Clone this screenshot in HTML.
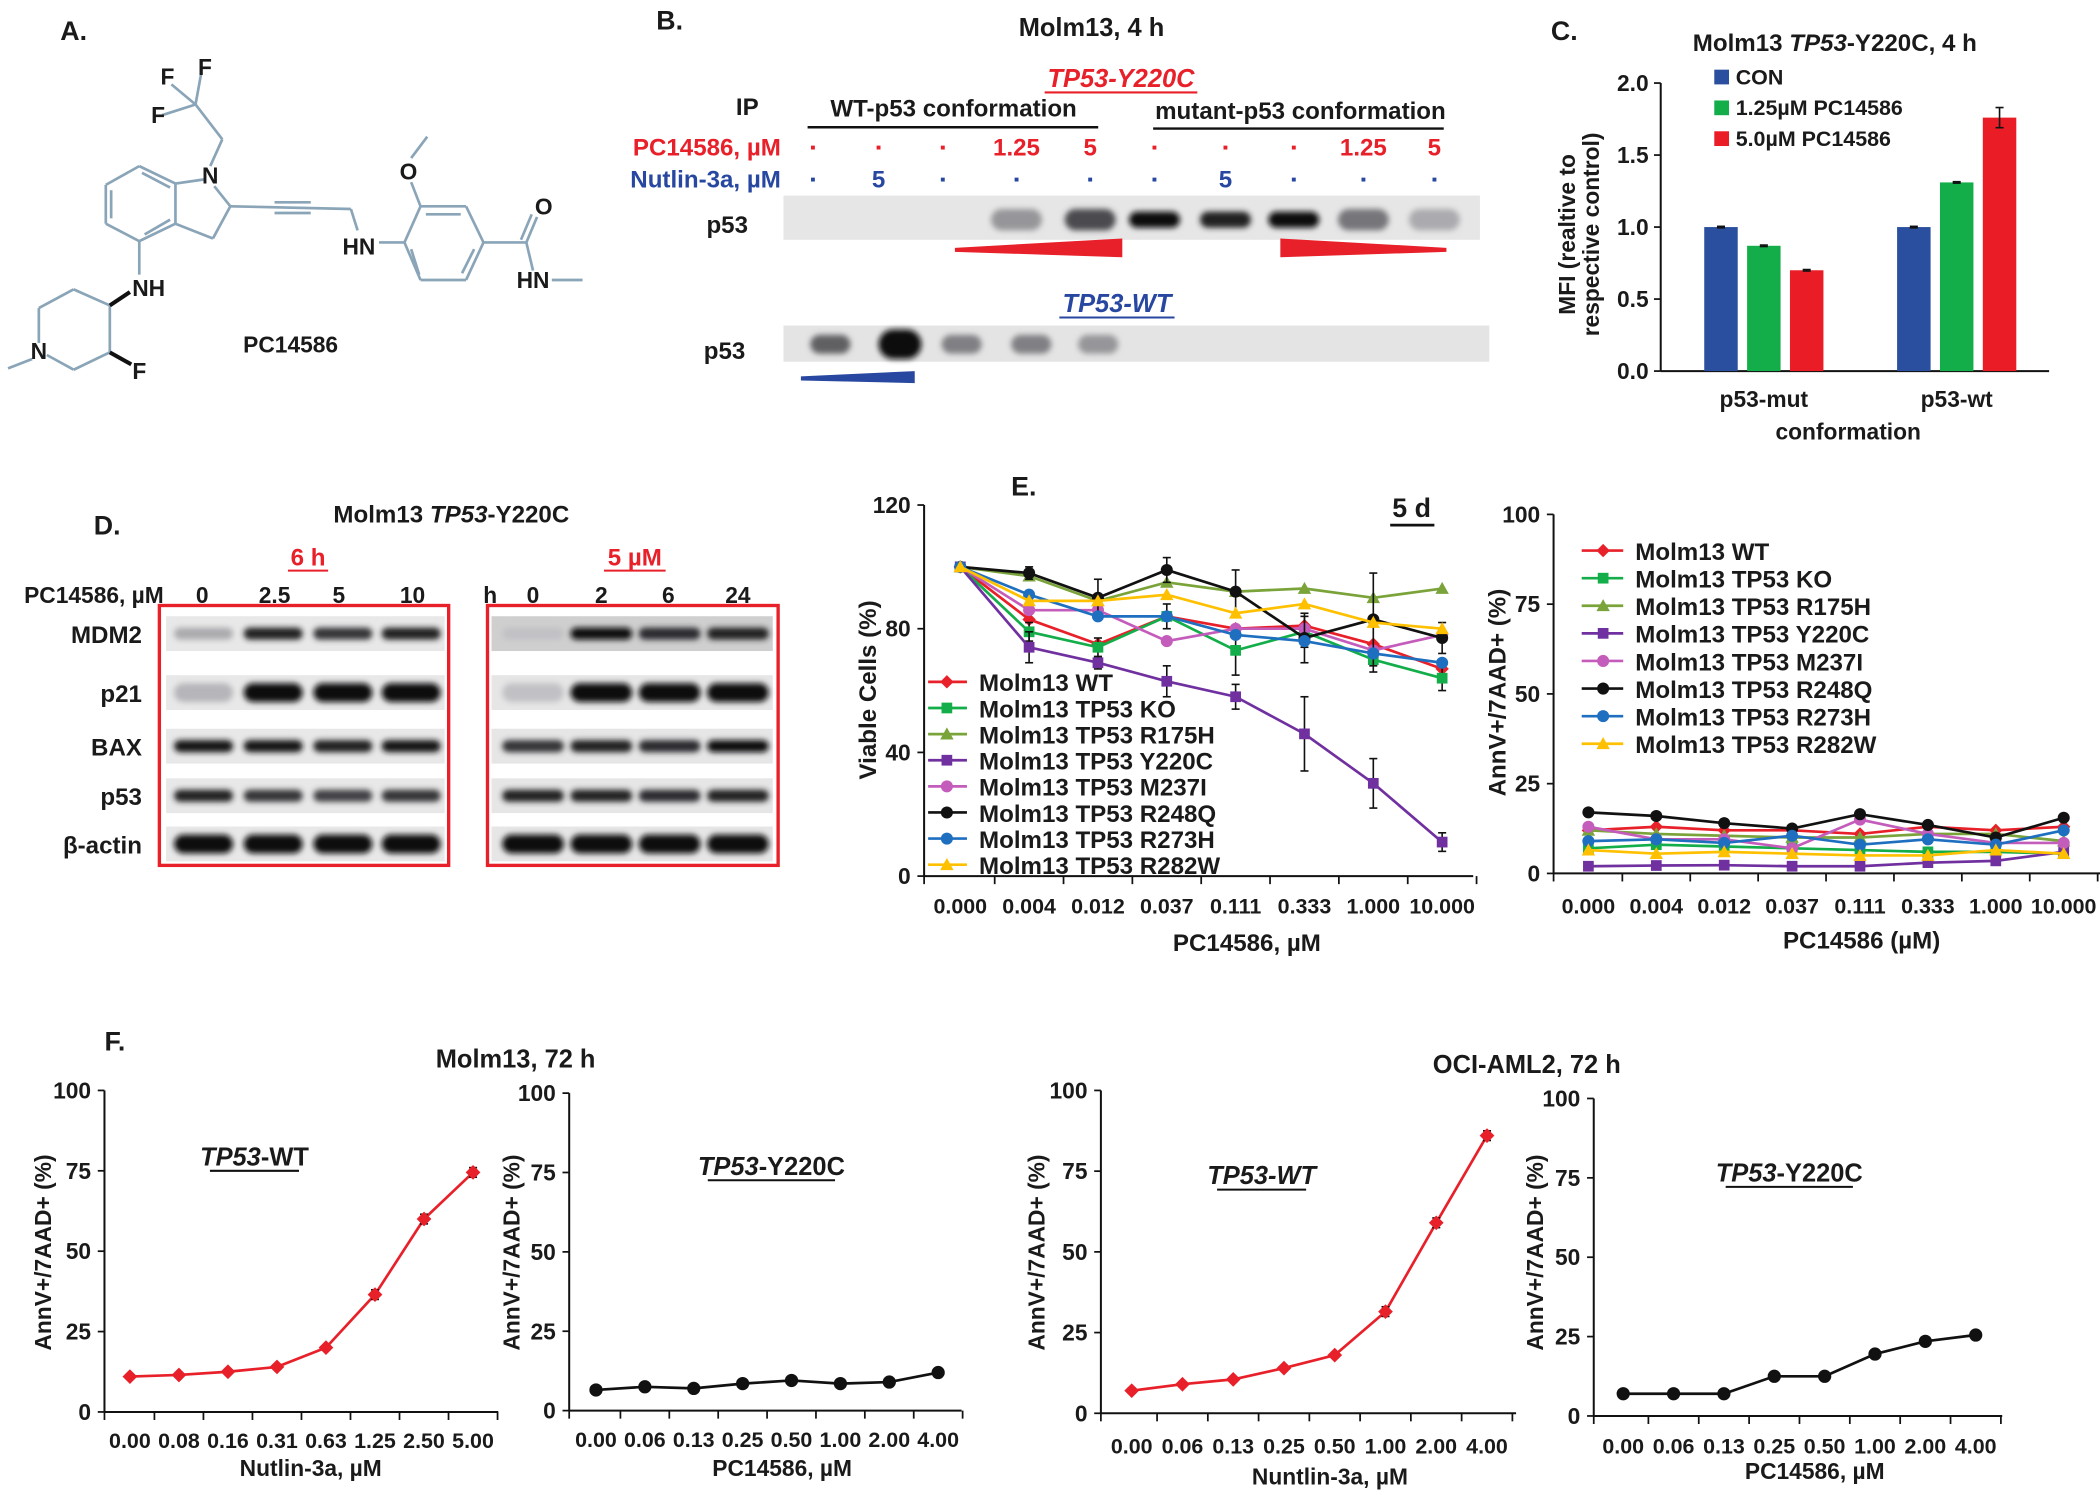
<!DOCTYPE html>
<html><head><meta charset="utf-8"><style>
html,body{margin:0;padding:0;background:#fff;}
svg{display:block;}
text{font-family:"Liberation Sans Narrow","Liberation Sans",sans-serif;font-weight:bold;fill:#1a1a1a;}
.w{font-family:"Liberation Sans",sans-serif;}
</style></head><body>
<svg id="fig" width="2100" height="1495" viewBox="0 0 1568 1116" preserveAspectRatio="none" xmlns="http://www.w3.org/2000/svg">
<defs>
<filter id="blur" x="-30%" y="-80%" width="160%" height="260%"><feGaussianBlur stdDeviation="2.2"/></filter>
</defs>
</svg>
<script>
// ---------- DATA ----------
const C_groups = ["p53-mut","p53-wt"];
const C_con = [1.0, 1.0];
const C_low = [0.87, 1.31];
const C_high = [0.70, 1.76];
const C_highErr = [0.005, 0.07];
const C_ticks = [0.0, 0.5, 1.0, 1.5, 2.0];

const E_cats = ["0.000","0.004","0.012","0.037","0.111","0.333","1.000","10.000"];
const E_ticksL = [0, 40, 80, 120];
const E_ticksR = [0, 25, 50, 75, 100];
const E_wt    = [100, 83, 75, 84, 80, 81, 75, 67];
const E_ko    = [100, 79, 74, 84, 73, 79, 70, 64];
const E_r175h = [100, 97, 89, 95, 92, 93, 90, 93];
const E_y220c = [100, 74, 69, 63, 58, 46, 30, 11];
const E_m237i = [100, 86, 86, 76, 80, 80, 73, 78];
const E_r248q = [100, 98, 90, 99, 92, 77, 83, 77];
const E_r273h = [100, 91, 84, 84, 78, 76, 72, 69];
const E_r282w = [100, 89, 89, 91, 85, 88, 82, 80];
const E_y220cErr = [0, 5, 2, 5, 4, 12, 8, 3];
const E_r248qErr = [0, 2, 6, 4, 7, 8, 15, 5];
const E_koErr = [0, 3, 3, 4, 8, 5, 4, 4];
const A_wt    = [12, 13, 12, 12, 11, 13, 12, 13];
const A_ko    = [7, 8, 7.5, 7, 6.5, 6, 6, 5.5];
const A_r175h = [12, 11, 10.5, 10, 10, 11, 11, 9];
const A_y220c = [2, 2.2, 2.3, 2, 2, 3, 3.5, 6];
const A_m237i = [13, 9.5, 9.5, 7, 15, 11, 8.5, 8.5];
const A_r248q = [17, 16, 14, 12.5, 16.5, 13.5, 10, 15.5];
const A_r273h = [9, 9.5, 8.5, 10.5, 8, 9.5, 8, 12];
const A_r282w = [6.5, 5.5, 6, 5.5, 5, 5, 6.5, 5.5];
const E_names = ["Molm13 WT","Molm13 TP53 KO","Molm13 TP53 R175H","Molm13 TP53 Y220C","Molm13 TP53 M237I","Molm13 TP53 R248Q","Molm13 TP53 R273H","Molm13 TP53 R282W"];

const F1_cats = ["0.00","0.08","0.16","0.31","0.63","1.25","2.50","5.00"];
const F1_vals = [11, 11.5, 12.5, 14, 20, 36.5, 60, 74.5];
const F2_cats = ["0.00","0.06","0.13","0.25","0.50","1.00","2.00","4.00"];
const F2_vals = [6.5, 7.5, 7, 8.5, 9.5, 8.5, 9, 12];
const F3_cats = ["0.00","0.06","0.13","0.25","0.50","1.00","2.00","4.00"];
const F3_vals = [7, 9, 10.5, 14, 18, 31.5, 59, 86];
const F4_cats = ["0.00","0.06","0.13","0.25","0.50","1.00","2.00","4.00"];
const F4_vals = [7, 7, 7, 12.5, 12.5, 19.5, 23.5, 25.5];
const F_ticks = [0, 25, 50, 75, 100];

const B_blot1 = [0, 0, 0, 0.35, 0.7, 1, 0.9, 1, 0.5, 0.25];
const B_blot2 = [0.6, 1, 0.45, 0.45, 0.35];

// ---------- HELPERS ----------
const svg = document.getElementById('fig');
const NS = 'http://www.w3.org/2000/svg';
function el(tag, attrs, parent){
  const e = document.createElementNS(NS, tag);
  for (const k in attrs) e.setAttribute(k, attrs[k]);
  (parent||svg).appendChild(e);
  return e;
}
function txt(s, x, y, size, opts, name){
  opts = opts||{};
  const t = el('text', {x:x, y:y, 'font-size':size, 'text-anchor':opts.anchor||'start'});
  if (opts.fill) t.setAttribute('style','fill:'+opts.fill);
  if (opts.italic) t.setAttribute('font-style','italic');
  if (opts.cls) t.setAttribute('class',opts.cls);
  if (opts.rot) t.setAttribute('transform','rotate(-90 '+x+' '+y+')');
  t.textContent = s;
  
  
  return t;
}
function mixed(parts, x, y, size, anchor, name){
  const t = el('text',{x:x,y:y,'font-size':size,'text-anchor':anchor||'middle'});
  
  
  parts.forEach(p=>{ const s=el('tspan',p[1]?{'font-style':'italic'}:{},t); s.textContent=p[0]; });
  return t;
}
function line(x1,y1,x2,y2,stroke,w,name){
  const l = el('line',{x1:x1,y1:y1,x2:x2,y2:y2,stroke:stroke,'stroke-width':w});
  
  
  return l;
}
function marker(type,x,y,color,s){
  let m;
  if (type==='diamond') m = el('polygon',{points:[x,y-s,x+s,y,x,y+s,x-s,y].join(' '),fill:color});
  else if (type==='square') m = el('rect',{x:x-s*0.8,y:y-s*0.8,width:s*1.6,height:s*1.6,fill:color});
  else if (type==='triangle') m = el('polygon',{points:[x,y-s,x+s,y+s*0.8,x-s,y+s*0.8].join(' '),fill:color});
  else m = el('circle',{cx:x,cy:y,r:s*0.9,fill:color});
  
  
  return m;
}
function errbar(x,y1,y2,name){
  line(x,y1,x,y2,'#111',1.2,name||'error-bar');
  line(x-3,y1,x+3,y1,'#111',1.2,'error-cap');
  line(x-3,y2,x+3,y2,'#111',1.2,'error-cap');
}
function band(x,y,w,h,intensity,name){
  const v = Math.round(225 - 215*intensity);
  const b = el('rect',{x:x-w/2,y:y-h/2,width:w,height:h,rx:h/2,fill:'rgb('+v+','+v+','+(v+4)+')',filter:'url(#blur)'});
  
  
}

// ---------- PANEL A ----------
txt('A.',45,30,20,{cls:'w'},'panel-a-label');
const bc = '#8aa4b8';
const bonds = [
 [104,124,131,137],[131,137,131,167],[131,167,104,180],[104,180,79,167],[79,167,79,138],[79,138,104,124],
 [83,142,83,163],[106,129,127,140],[108,175,127,164],
 [131,137,152,134],[160,139,172,154],[172,154,159,178],[159,178,131,167],
 [157,124,166,104],[166,104,146,78],[146,78,128,63],[146,78,150,56],[146,78,121,86],
 [172,154,262,156],[205,151,232,151],[205,159,232,159],[262,156,267,172],
 [283,181,302,181],[302,181,314,154],[314,154,348,154],[348,154,361,181],[361,181,348,209],[348,209,314,209],[314,209,302,181],
 [318,160,344,160],[313,205,307,186],[345,204,354,186],
 [314,154,307,136],[307,118,319,102],
 [361,181,393,181],[393,181,401,162],[389,179,397,160],[393,181,398,202],[412,209,435,209],
 [104,180,104,205],[82,228,82,263],[82,263,55,276],[55,276,35,265],[29,256,29,230],[29,230,55,216],[55,216,82,228],[24,268,6,275]
];
bonds.forEach(b=>line(b[0],b[1],b[2],b[3],bc,2,'chemical-bond'));
line(82,228,97,218,'#111',3,'wedge-bond');
line(82,263,98,272,'#111',3,'wedge-bond');
[['F',125,63],['F',153,56],['F',118,92],['N',157,137],['O',305,134],['HN',268,190],['O',406,160],['HN',398,215],['NH',111,221],['N',29,268],['F',104,283]].forEach(a=>txt(a[0],a[1],a[2],17,{anchor:'middle',cls:'w'},'atom-label'));
txt('PC14586',217,263,17,{anchor:'middle',cls:'w'},'compound-name');

// ---------- PANEL B ----------
txt('B.',490,22,20,{cls:'w'},'panel-b-label');
txt('Molm13, 4 h',815,27,19,{anchor:'middle'},'panel-b-title');
txt('TP53-Y220C',837,65,19,{anchor:'middle',fill:'#e8202a',italic:true},'tp53-y220c-label');
line(780,69,894,69,'#e8202a',1.5,'underline');
txt('IP',558,86,18,{anchor:'middle'},'ip-label');
txt('WT-p53 conformation',712,87,18,{anchor:'middle'},'wt-conformation-label');
line(603,95,820,95,'#111',1.8,'group-line');
txt('mutant-p53 conformation',971,89,18,{anchor:'middle'},'mutant-conformation-label');
line(861,96,1078,96,'#111',1.8,'group-line');
txt('PC14586, µM',583,116,18,{anchor:'end',fill:'#e8202a'},'pc14586-row-label');
txt('Nutlin-3a, µM',583,140,18,{anchor:'end',fill:'#2747a0'},'nutlin-row-label');
const B_lanes=[607,656,704,759,814,862,915,966,1018,1071];
const B_pc=['-','-','-','1.25','5','-','-','-','1.25','5'];
const B_nut=['-','5','-','-','-','-','5','-','-','-'];
B_lanes.forEach((x,i)=>{
  txt(B_pc[i]==='-'?'■':B_pc[i],x,B_pc[i]==='-'?112:116,B_pc[i]==='-'?6:18,{anchor:'middle',fill:'#e8202a'},'pc-dose');
  txt(B_nut[i]==='-'?'■':B_nut[i],x,B_nut[i]==='-'?136:140,B_nut[i]==='-'?6:18,{anchor:'middle',fill:'#2747a0'},'nutlin-dose');
});
const bl1 = el('rect',{x:585,y:146,width:520,height:33,fill:'#e6e6e6'});


B_blot1.forEach((v,i)=>{ if(v>0) band(B_lanes[i],164,38,v>0.8?12:16,v,'p53-band'); });
txt('p53',543,174,18,{anchor:'middle'},'p53-row-label');
const w1 = el('polygon',{points:'713,185 838,178 838,192 713,188',fill:'#e8202a'});


const w2 = el('polygon',{points:'956,178 1080,185 1080,188 956,192',fill:'#e8202a'});


txt('TP53-WT',834,233,19,{anchor:'middle',fill:'#2747a0',italic:true},'tp53-wt-label');
line(791,237,877,237,'#2747a0',1.5,'underline');
const bl2 = el('rect',{x:585,y:243,width:527,height:27,fill:'#e4e4e4'});


const B_lanes2=[620,672,718,770,820];
B_blot2.forEach((v,i)=>band(B_lanes2[i],257,v>0.9?32:30,v>0.9?22:14,v,'p53-band'));
txt('p53',541,268,18,{anchor:'middle'},'p53-row-label');
const w3 = el('polygon',{points:'598,281 683,277 683,286 598,284',fill:'#2747a0'});



// ---------- PANEL C ----------
txt('C.',1158,30,20,{cls:'w'},'panel-c-label');
mixed([['Molm13 ',0],['TP53',1],['-Y220C,  4 h',0]],1370,38,18,'middle','panel-c-title');
const C_x0=1240, C_x1=1530, C_y0=277, C_ytop=62;
const cy = v=>C_y0-(v/2)*(C_y0-C_ytop);
line(C_x0,C_ytop,C_x0,C_y0,'#111',1.5,'c-y-axis');
line(C_x0,C_y0,C_x1,C_y0,'#111',1.5,'c-x-axis');
C_ticks.forEach(t=>{ line(C_x0-5,cy(t),C_x0,cy(t),'#111',1.3,'tick'); txt(t.toFixed(1),C_x0-9,cy(t)+6,17,{anchor:'end',cls:'w'},'c-y-tick'); });
const C_centers=[1317,1461], C_cols=['#2a4f9e','#13ad4a','#ea1d26'], C_bw=25;
C_groups.forEach((g,gi)=>{
  [C_con,C_low,C_high].forEach((arr,si)=>{
    const x=C_centers[gi]+(si-1)*32-C_bw/2, y=cy(arr[gi]);
    const r=el('rect',{x:x,y:y,width:C_bw,height:C_y0-y,fill:C_cols[si]});
    
    
    const e = si===2?C_highErr[gi]:0.005;
    errbar(x+C_bw/2,cy(arr[gi]+e),cy(arr[gi]-e),'c-error');
  });
  txt(g,C_centers[gi],304,17,{anchor:'middle',cls:'w'},'c-category');
});
txt('conformation',1380,328,17,{anchor:'middle',cls:'w'},'c-x-title');
['CON','1.25µM PC14586','5.0µM PC14586'].forEach((s,i)=>{
  const r=el('rect',{x:1280,y:52+i*23,width:11,height:11,fill:C_cols[i]});
  
  
  txt(s,1296,63+i*23,16,{},'legend-entry');
});
txt('MFI (realtive to',1176,175,17,{anchor:'middle',rot:true,cls:'w'},'c-y-title');
txt('respective control)',1194,175,17,{anchor:'middle',rot:true,cls:'w'},'c-y-title');

// ---------- PANEL D ----------
txt('D.',70,399,20,{cls:'w'},'panel-d-label');
mixed([['Molm13 ',0],['TP53',1],['-Y220C',0]],337,390,18,'middle','panel-d-title');
txt('6 h',230,422,18,{anchor:'middle',fill:'#e8202a'},'six-hour-label');
line(215,426,245,426,'#e8202a',1.5,'underline');
txt('5 µM',474,422,18,{anchor:'middle',fill:'#e8202a'},'five-um-label');
line(451,426,497,426,'#e8202a',1.5,'underline');
txt('PC14586, µM',18,450,17,{},'dose-row-label');
[['0',151],['2.5',205],['5',253],['10',308],['h',366],['0',398],['2',449],['6',499],['24',551]].forEach(a=>txt(a[0],a[1],450,17,{anchor:'middle'},'lane-label'));
const D_rows=['MDM2','p21','BAX','p53','β-actin'], D_ry=[473,517,557,594,630];
const D_box1=[0.25,0.9,0.8,0.9, 0.2,1,1,1, 0.95,0.95,0.9,0.95, 0.9,0.8,0.75,0.8, 1,1,1,1];
const D_box2=[0.15,1,0.85,0.9, 0.15,1,1,1, 0.8,0.9,0.85,1, 0.9,0.9,0.85,0.9, 1,1,1,1];
const D_l1=[152,204,256,307], D_l2=[398,449,500,551];
D_rows.forEach((r,ri)=>{
  txt(r,106,D_ry[ri]+7,18,{anchor:'end'},'protein-label');
  const s1=el('rect',{x:124,y:D_ry[ri]-13,width:208,height:26,fill:'#e8e8e8'});
  
  
  const s2=el('rect',{x:367,y:D_ry[ri]-13,width:210,height:26,fill:ri===0?'#cfcfcf':'#e6e6e6'});
  
  
  D_l1.forEach((x,i)=>band(x,D_ry[ri],44,ri===1||ri===4?14:9,D_box1[ri*4+i],'wb-band'));
  D_l2.forEach((x,i)=>band(x,D_ry[ri],46,ri===1||ri===4?14:9,D_box2[ri*4+i],'wb-band'));
});
const bx1=el('rect',{x:119,y:452,width:216,height:194,fill:'none',stroke:'#e8202a','stroke-width':2.5});


const bx2=el('rect',{x:364,y:452,width:217,height:194,fill:'none',stroke:'#e8202a','stroke-width':2.5});



// ---------- PANEL E ----------
txt('E.',755,370,20,{cls:'w'},'panel-e-label');
txt('5 d',1054,386,20,{anchor:'middle',cls:'w'},'five-day-label');
line(1038,392,1071,392,'#111',2,'underline');
const E_styles=[['#e8202a','diamond'],['#13ad4a','square'],['#7aa33a','triangle'],['#7030a0','square'],['#c45cbb','circle'],['#111111','circle'],['#1f6fc0','circle'],['#ffc000','triangle']];
function lineChart(o){
  const yv = v=>o.y0-(v/o.ymax)*(o.y0-o.ytop);
  const xv = i=>o.cx0+i*o.dx;
  line(o.ax,o.ytop,o.ax,o.y0,'#111',1.5,'y-axis');
  line(o.ax,o.y0,o.xEnd,o.y0,'#111',1.5,'x-axis');
  o.ticks.forEach(t=>{ line(o.ax-5,yv(t),o.ax,yv(t),'#111',1.3,'y-tick'); txt(String(t),o.ax-10,yv(t)+6,o.tfs||17,{anchor:'end'},'y-tick-label'); });
  for(let i=0;i<=o.cats.length;i++){ const x=o.ax+(i===0?0:(xv(i)-o.dx/2-o.ax)); line(x,o.y0,x,o.y0+6,'#111',1.3,'x-tick'); }
  o.cats.forEach((c,i)=>txt(c,xv(i),o.y0+o.lblOff,o.xfs||16,{anchor:'middle'},'x-tick-label'));
  o.series.forEach((s,si)=>{
    const pts=s.vals.map((v,i)=>xv(i)+','+yv(v)).join(' ');
    const p=el('polyline',{points:pts,fill:'none',stroke:s.color,'stroke-width':2});
    
    
    if(s.err) s.vals.forEach((v,i)=>{ if(s.err[i]>0) errbar(xv(i),yv(v+s.err[i]),yv(v-s.err[i])); });
    s.vals.forEach((v,i)=>marker(s.marker,xv(i),yv(v),s.color,s.ms||5));
  });
}
lineChart({ax:690,xEnd:1100,y0:654,ytop:377,ymax:120,cx0:717,dx:51.4,cats:E_cats,ticks:E_ticksL,lblOff:28,
  series:[E_wt,E_ko,E_r175h,E_y220c,E_m237i,E_r248q,E_r273h,E_r282w].map((v,i)=>({vals:v,color:E_styles[i][0],marker:E_styles[i][1],
    err:i===3?E_y220cErr:i===5?E_r248qErr:i===1?E_koErr:null}))});
txt('Viable Cells (%)',654,515,18,{anchor:'middle',rot:true,cls:'w'},'e-left-y-title');
txt('PC14586, µM',931,710,18,{anchor:'middle'},'e-left-x-title');
E_names.forEach((n,i)=>{ const y=509+i*19.5; line(693,y,722,y,E_styles[i][0],2,'legend-line'); marker(E_styles[i][1],707,y,E_styles[i][0],5); txt(n,731,y+7,18,{},'legend-entry'); });
lineChart({ax:1160,xEnd:1568,y0:652,ytop:384,ymax:100,cx0:1186,dx:50.7,cats:E_cats,ticks:E_ticksR,lblOff:30,
  series:[A_wt,A_ko,A_r175h,A_y220c,A_m237i,A_r248q,A_r273h,A_r282w].map((v,i)=>({vals:v,color:E_styles[i][0],marker:E_styles[i][1]}))});
txt('AnnV+/7AAD+ (%)',1124,517,18,{anchor:'middle',rot:true,cls:'w'},'e-right-y-title');
txt('PC14586 (µM)',1390,708,18,{anchor:'middle'},'e-right-x-title');
E_names.forEach((n,i)=>{ const y=411+i*20.6; line(1181,y,1212,y,E_styles[i][0],2,'legend-line'); marker(E_styles[i][1],1197,y,E_styles[i][0],5); txt(n,1221,y+7,18,{},'legend-entry'); });

// ---------- PANEL F ----------
txt('F.',78,784,20,{cls:'w'},'panel-f-label');
txt('Molm13, 72 h',385,797,19,{anchor:'middle'},'molm13-title');
txt('OCI-AML2, 72 h',1140,801,19,{anchor:'middle'},'oci-aml2-title');
const F_cfg=[
 {ax:78,xEnd:372,y0:1054,ytop:814,cx0:97,dx:36.6,cats:F1_cats,vals:F1_vals,color:'#e8202a',m:'diamond',lo:27,xt:'Nutlin-3a, µM',xtx:232,xty:1102,yt:38,sub:[['TP53',1],['-WT',0]],sx:190,sy:870},
 {ax:425,xEnd:718,y0:1053,ytop:816,cx0:445,dx:36.5,cats:F2_cats,vals:F2_vals,color:'#111',m:'circle',lo:27,xt:'PC14586, µM',xtx:584,xty:1102,yt:388,sub:[['TP53',1],['-Y220C',0]],sx:576,sy:877},
 {ax:822,xEnd:1132,y0:1055,ytop:814,cx0:845,dx:37.9,cats:F3_cats,vals:F3_vals,color:'#e8202a',m:'diamond',lo:30,xt:'Nuntlin-3a, µM',xtx:993,xty:1108,yt:780,sub:[['TP53-WT',1]],sx:942,sy:884},
 {ax:1190,xEnd:1495,y0:1057,ytop:820,cx0:1212,dx:37.6,cats:F4_cats,vals:F4_vals,color:'#111',m:'circle',lo:28,xt:'PC14586, µM',xtx:1355,xty:1104,yt:1152,sub:[['TP53',1],['-Y220C',0]],sx:1336,sy:882}
];
F_cfg.forEach((c,ci)=>{
  lineChart({ax:c.ax,xEnd:c.xEnd,y0:c.y0,ytop:c.ytop,ymax:100,cx0:c.cx0,dx:c.dx,cats:c.cats,ticks:F_ticks,lblOff:c.lo,xfs:16,
    series:[{vals:c.vals,color:c.color,marker:c.m,ms:5.5,err:c.vals.map(v=>v>30?1.5:0.8)}]});
  txt(c.xt,c.xtx,c.xty,17,{anchor:'middle'},'f-x-title');
  txt('AnnV+/7AAD+ (%)',c.yt,935,17,{anchor:'middle',rot:true,cls:'w'},'f-y-title');
  mixed(c.sub,c.sx,c.sy,19,'middle','genotype-label');
  const w=c.sub.map(p=>p[0]).join('').length*9.5;
  line(c.sx-w/2,c.sy+4,c.sx+w/2,c.sy+4,'#111',1.5,'underline');
});
</script>
</body></html>
